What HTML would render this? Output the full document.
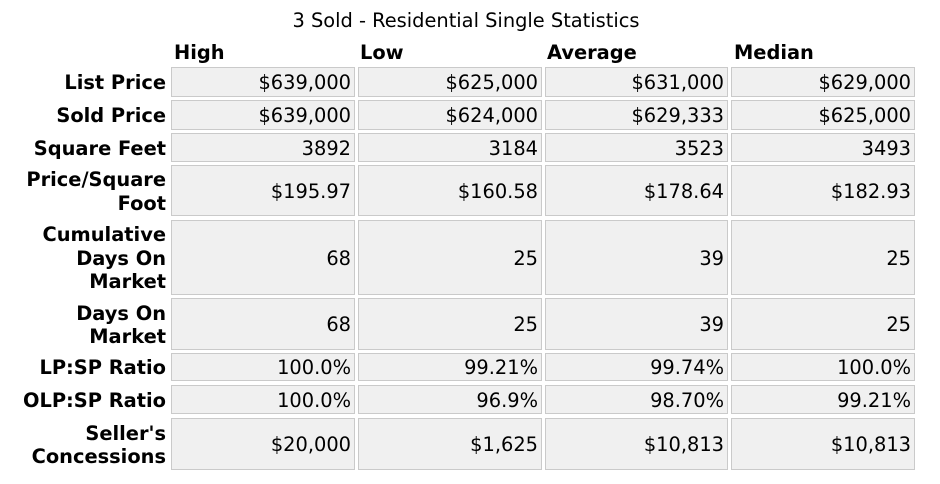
<!DOCTYPE html>
<html><head><meta charset="utf-8"><style>
html,body{margin:0;padding:0;background:#fff;}
body{width:940px;height:484px;position:relative;overflow:hidden;font-family:"DejaVu Sans","Liberation Sans",sans-serif;font-size:19.4px;color:#000;}
.t{position:absolute;left:0;width:932px;top:9px;text-align:center;white-space:nowrap;line-height:24px;}
.h{position:absolute;top:41px;font-weight:bold;line-height:24px;white-space:nowrap;}
.c{position:absolute;box-sizing:border-box;background:#f0f0f0;border:1px solid #cacaca;display:flex;align-items:center;justify-content:flex-end;padding-right:3px;padding-top:2px;white-space:nowrap;line-height:23.5px;}
.l{position:absolute;left:0;width:166px;box-sizing:border-box;padding-top:2px;display:flex;align-items:center;justify-content:flex-end;text-align:right;font-weight:bold;line-height:23.5px;}
</style></head><body>
<div class="t">3 Sold - Residential Single Statistics</div>
<div class="h" style="left:174px">High</div>
<div class="h" style="left:360px">Low</div>
<div class="h" style="left:547px">Average</div>
<div class="h" style="left:734px">Median</div>

<!-- row 1 -->
<div class="l" style="top:67px;height:30px">List Price</div>
<div class="c" style="left:171px;width:184px;top:67px;height:30px">$639,000</div>
<div class="c" style="left:358px;width:184px;top:67px;height:30px">$625,000</div>
<div class="c" style="left:545px;width:183px;top:67px;height:30px">$631,000</div>
<div class="c" style="left:731px;width:184px;top:67px;height:30px">$629,000</div>
<!-- row 2 -->
<div class="l" style="top:100px;height:30px">Sold Price</div>
<div class="c" style="left:171px;width:184px;top:100px;height:30px">$639,000</div>
<div class="c" style="left:358px;width:184px;top:100px;height:30px">$624,000</div>
<div class="c" style="left:545px;width:183px;top:100px;height:30px">$629,333</div>
<div class="c" style="left:731px;width:184px;top:100px;height:30px">$625,000</div>
<!-- row 3 -->
<div class="l" style="top:133px;height:29px">Square Feet</div>
<div class="c" style="left:171px;width:184px;top:133px;height:29px">3892</div>
<div class="c" style="left:358px;width:184px;top:133px;height:29px">3184</div>
<div class="c" style="left:545px;width:183px;top:133px;height:29px">3523</div>
<div class="c" style="left:731px;width:184px;top:133px;height:29px">3493</div>
<!-- row 4 -->
<div class="l" style="top:165px;height:51px">Price/Square<br>Foot</div>
<div class="c" style="left:171px;width:184px;top:165px;height:51px">$195.97</div>
<div class="c" style="left:358px;width:184px;top:165px;height:51px">$160.58</div>
<div class="c" style="left:545px;width:183px;top:165px;height:51px">$178.64</div>
<div class="c" style="left:731px;width:184px;top:165px;height:51px">$182.93</div>
<!-- row 5 -->
<div class="l" style="top:220px;height:75px">Cumulative<br>Days On<br>Market</div>
<div class="c" style="left:171px;width:184px;top:220px;height:75px">68</div>
<div class="c" style="left:358px;width:184px;top:220px;height:75px">25</div>
<div class="c" style="left:545px;width:183px;top:220px;height:75px">39</div>
<div class="c" style="left:731px;width:184px;top:220px;height:75px">25</div>
<!-- row 6 -->
<div class="l" style="top:298px;height:52px">Days On<br>Market</div>
<div class="c" style="left:171px;width:184px;top:298px;height:52px">68</div>
<div class="c" style="left:358px;width:184px;top:298px;height:52px">25</div>
<div class="c" style="left:545px;width:183px;top:298px;height:52px">39</div>
<div class="c" style="left:731px;width:184px;top:298px;height:52px">25</div>
<!-- row 7 -->
<div class="l" style="top:353px;height:28px">LP:SP Ratio</div>
<div class="c" style="left:171px;width:184px;top:353px;height:28px">100.0%</div>
<div class="c" style="left:358px;width:184px;top:353px;height:28px">99.21%</div>
<div class="c" style="left:545px;width:183px;top:353px;height:28px">99.74%</div>
<div class="c" style="left:731px;width:184px;top:353px;height:28px">100.0%</div>
<!-- row 8 -->
<div class="l" style="top:385px;height:29px">OLP:SP Ratio</div>
<div class="c" style="left:171px;width:184px;top:385px;height:29px">100.0%</div>
<div class="c" style="left:358px;width:184px;top:385px;height:29px">96.9%</div>
<div class="c" style="left:545px;width:183px;top:385px;height:29px">98.70%</div>
<div class="c" style="left:731px;width:184px;top:385px;height:29px">99.21%</div>
<!-- row 9 -->
<div class="l" style="top:418px;height:52px">Seller's<br>Concessions</div>
<div class="c" style="left:171px;width:184px;top:418px;height:52px">$20,000</div>
<div class="c" style="left:358px;width:184px;top:418px;height:52px">$1,625</div>
<div class="c" style="left:545px;width:183px;top:418px;height:52px">$10,813</div>
<div class="c" style="left:731px;width:184px;top:418px;height:52px">$10,813</div>
</body></html>
